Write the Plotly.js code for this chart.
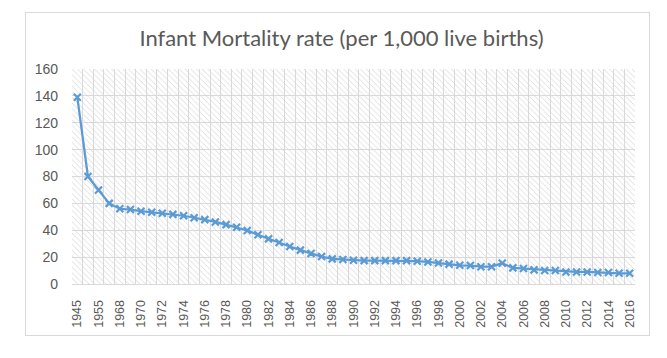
<!DOCTYPE html>
<html><head><meta charset="utf-8">
<script src="https://cdn.plot.ly/plotly-3.0.1.min.js"></script>
<style>
html,body{margin:0;padding:0;background:#fff;}
#wrap{position:relative;width:667px;height:358px;}
#chart{position:absolute;left:0;top:0;width:667px;height:358px;}
#frame{position:absolute;left:25px;top:12px;width:623px;height:322px;border:1px solid #d9d9d9;pointer-events:none;}
</style></head>
<body>
<div id="wrap"><div id="chart"></div><div id="frame"></div></div>
<script>
const years = ["1945","1950","1955","1960","1968","1969","1970","1971","1972","1973","1974","1975","1976","1977","1978","1979","1980","1981","1982","1983","1984","1985","1986","1987","1988","1989","1990","1991","1992","1993","1994","1995","1996","1997","1998","1999","2000","2001","2002","2003","2004","2005","2006","2007","2008","2009","2010","2011","2012","2013","2014","2015","2016"];
const rates = [139,80,70,60,56,55.4,54.2,53.4,52.6,51.8,50.8,49.3,47.9,46.2,44.2,42.2,39.8,36.6,33.6,30.9,27.9,25.2,22.7,20.4,18.7,18.2,17.7,17.4,17.4,17.4,17.4,17.4,17.0,16.4,15.6,14.8,13.9,13.7,12.9,12.9,15.5,12.0,11.5,10.5,10.0,10.0,9.0,9.0,9.0,8.5,8.5,8.0,8.0];
// every other category is labelled
const tickText = years.map((y,i)=> i%2===0 ? y : "");

const blue = "#5B9BD5";
const grey = "#595959";

const hatch = {
  type:"bar", x:[0.5], y:[1], width:[1], xaxis:"x", yaxis:"y",
  marker:{color:"rgba(0,0,0,0)", line:{width:0},
    pattern:{shape:"\\", fgcolor:"#d6d6d6", size:4, solidity:0.2}},
  hoverinfo:"skip", showlegend:false
};
const line = {
  type:"scatter", mode:"lines+markers", x:years, y:rates, xaxis:"x2", yaxis:"y2",
  line:{color:blue, width:2.25},
  marker:{symbol:"x-thin", size:7, color:blue, line:{color:blue, width:2.2}},
  showlegend:false
};

const layout = {
  width:667, height:358,
  margin:{l:72, r:32, t:69, b:74, pad:0},
  paper_bgcolor:"#ffffff", plot_bgcolor:"#ffffff",
  showlegend:false,
  title:{text:"Infant Mortality rate (per 1,000 live births)", x:0.512, xanchor:"center", y:0.893, yanchor:"middle",
    font:{family:"Lato, 'Open Sans', sans-serif", size:22, color:grey}},
  xaxis:{range:[0,1], visible:false, fixedrange:true},
  yaxis:{range:[0,1], visible:false, fixedrange:true},
  xaxis2:{type:"category", overlaying:"x", anchor:"y2", side:"bottom", range:[-0.5, years.length-0.5],
    tickmode:"array", tickvals:years, ticktext:tickText, tickson:"boundaries",
    tickangle:-90, showgrid:true, gridcolor:"#d9d9d9", gridwidth:1,
    showline:true, linecolor:"#d9d9d9", linewidth:1, ticks:"", ticklabelstandoff:10,
    tickfont:{family:"'Liberation Sans', Arial, sans-serif", size:12.5, color:grey}},
  yaxis2:{overlaying:"y", anchor:"x2", side:"left", range:[0,160], dtick:20, tick0:0,
    showgrid:true, gridcolor:"#d9d9d9", gridwidth:1, zeroline:false, showline:false, ticks:"",
    ticklabelstandoff:13,
    tickfont:{family:"'Liberation Sans', Arial, sans-serif", size:14, color:grey}},
  bargap:0
};
Plotly.newPlot("chart", [hatch, line], layout, {staticPlot:true, displayModeBar:false});
</script>
</body></html>
